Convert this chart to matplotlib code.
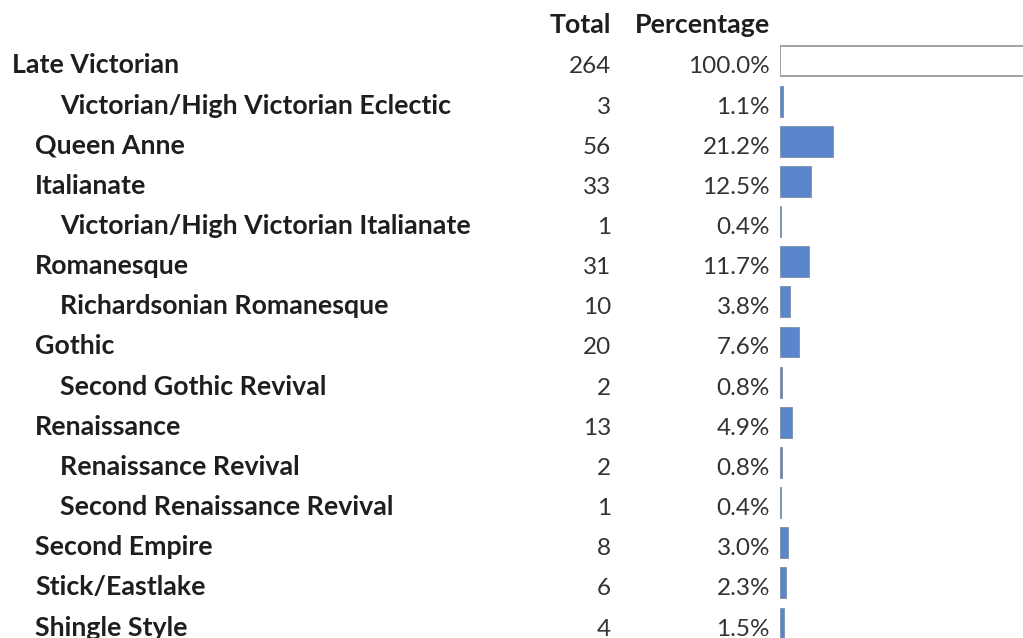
import matplotlib
matplotlib.use("Agg")
import matplotlib.pyplot as plt

# rows of the table, top to bottom
styles = [
    "Late Victorian",
    "Victorian/High Victorian Eclectic",
    "Queen Anne",
    "Italianate",
    "Victorian/High Victorian Italianate",
    "Romanesque",
    "Richardsonian Romanesque",
    "Gothic",
    "Second Gothic Revival",
    "Renaissance",
    "Renaissance Revival",
    "Second Renaissance Revival",
    "Second Empire",
    "Stick/Eastlake",
    "Shingle Style",
]
levels = [0, 2, 1, 1, 2, 1, 2, 1, 2, 1, 2, 2, 1, 1, 1]
totals = [264, 3, 56, 33, 1, 31, 10, 20, 2, 13, 2, 1, 8, 6, 4]
percentages = [100.0, 1.1, 21.2, 12.5, 0.4, 11.7, 3.8, 7.6, 0.8, 4.9, 0.8, 0.4, 3.0, 2.3, 1.5]
headers = ["Total", "Percentage"]


def main():
    W, H = 1023, 638
    pitch = 40.15
    first = 65.0
    y_top = -first / pitch
    y_bot = (H - first) / pitch

    fig = plt.figure(figsize=(W / 100, H / 100), dpi=100)
    fig.patch.set_facecolor("white")

    ax = fig.add_axes([0, 0, 1, 1])
    ax.set_xlim(0, W)
    ax.set_ylim(y_bot, y_top)
    ax.axis("off")

    text_color = "#1e1e1e"
    num_color = "#333333"
    base_off = 0.21  # baseline below the cap centre, in rows
    indent = {0: 12, 1: 35, 2: 60}

    for i, name in enumerate(styles):
        ax.text(indent[levels[i]], i + base_off, name, ha="left", va="baseline",
                fontsize=19.3, fontweight="bold", family="Lato", color=text_color)
        ax.text(611, i + base_off, str(totals[i]), ha="right", va="baseline",
                fontsize=17.5, family="Lato", color=num_color)
        ax.text(770, i + base_off, f"{percentages[i]:.1f}%", ha="right", va="baseline",
                fontsize=17.5, family="Lato", color=num_color)

    ax.text(611, -1 + base_off, headers[0], ha="right", va="baseline",
            fontsize=19.3, fontweight="bold", family="Lato", color=text_color)
    ax.text(770, -1 + base_off, headers[1], ha="right", va="baseline",
            fontsize=19.3, fontweight="bold", family="Lato", color=text_color)

    # data bars
    bx = fig.add_axes([780 / W, 0, 250 / W, 1])
    bx.set_xlim(0, 100)
    bx.set_ylim(y_bot, y_top)
    bx.axis("off")
    rows = list(range(len(styles)))
    bar_y = [r - 0.1 for r in rows]
    bx.barh(bar_y[1:], percentages[1:], height=0.77, left=0,
            color="#5a87cc", edgecolor="#7d8da6", linewidth=0.6)
    bx.barh(bar_y[0], percentages[0], height=0.75, left=0,
            color="white", edgecolor="#9a9a9a", linewidth=1.3)

    fig.savefig("out.png", dpi=100)
    return 0


if __name__ == "__main__":
    import sys
    sys.exit(main())
